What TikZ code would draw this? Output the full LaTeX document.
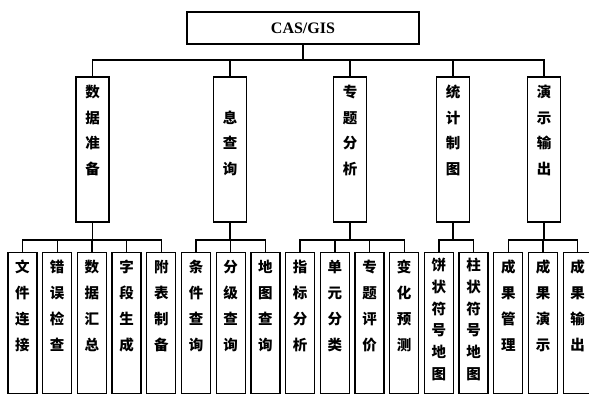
\documentclass[tikz,border=0pt]{standalone}
\usepackage{fontspec}
\setmainfont{Liberation Serif}
\newfontfamily\cjk{Noto Sans CJK SC}
\begin{document}
\begin{tikzpicture}[x=1pt,y=-1pt,
  conn/.style={line width=1.4pt},
  topbox/.style={draw,line width=1.5pt,minimum width=232pt,minimum height=32pt,inner sep=0pt,font=\bfseries\fontsize{16}{16}\selectfont},
  midbox/.style={draw,line width=1.5pt,minimum width=33pt,minimum height=145pt,inner sep=0pt,anchor=north},
  leafbox/.style={draw,line width=1.3pt,minimum width=29pt,minimum height=141pt,inner sep=0pt,anchor=north},
  vtext/.style={anchor=north,align=center,inner sep=0pt,font=\cjk\bfseries\fontsize{14.5}{25.5}\selectfont},
  vtextl/.style={anchor=north,align=center,inner sep=0pt,font=\cjk\bfseries\fontsize{14.5}{26}\selectfont},
  vtexts/.style={anchor=north,align=center,inner sep=0pt,font=\cjk\bfseries\fontsize{14.5}{21.7}\selectfont}]
\useasboundingbox (0,0) rectangle (589,394);
\clip (0,0) rectangle (589,394);
\coordinate (bus1) at (0,60);
\coordinate (bus2) at (0,240);
% top
\node[topbox] (top) at (303,28) {CAS/GIS};
% level 2
\node[midbox] (m1) at (92.5,76) {};
\node[midbox] (m2) at (230,76) {};
\node[midbox] (m3) at (350,76) {};
\node[midbox] (m4) at (453,76) {};
\node[midbox] (m5) at (544,76) {};
\node[vtext] (tm1) at (92.5,85) {数\\据\\准\\备};
\node[vtext] (tm2) at (230,110.5) {息\\查\\询};
\node[vtext] (tm3) at (350,85) {专\\题\\分\\析};
\node[vtext] (tm4) at (453,85) {统\\计\\制\\图};
\node[vtext] (tm5) at (544,85) {演\\示\\输\\出};
\foreach \m in {m1,m2,m3,m4,m5}
  \draw[conn] (top.south) -- (top.south |- bus1) -| (\m.north);
% level 3 boxes
\foreach \i in {1,...,17}
  \node[leafbox] (l\i) at ({22.5+34.7*(\i-1)},252) {};
\foreach \i/\t in {1/{文\\件\\连\\接},2/{错\\误\\检\\查},3/{数\\据\\汇\\总},4/{字\\段\\生\\成},5/{附\\表\\制\\备},
  6/{条\\件\\查\\询},7/{分\\级\\查\\询},8/{地\\图\\查\\询},9/{指\\标\\分\\析},10/{单\\元\\分\\类},
  11/{专\\题\\评\\价},12/{变\\化\\预\\测},15/{成\\果\\管\\理},16/{成\\果\\演\\示},17/{成\\果\\输\\出}}
  \node[vtextl] (tl\i) at ({22.5+34.7*(\i-1)},260) {\t};
\node[vtexts] (tl13) at ({22.5+34.7*12},258) {饼\\状\\符\\号\\地\\图};
\node[vtexts] (tl14) at ({22.5+34.7*13},258) {柱\\状\\符\\号\\地\\图};
% connectors level 2 -> 3
\foreach \m/\l in {m1/l1,m1/l2,m1/l3,m1/l4,m1/l5,m2/l6,m2/l7,m2/l8,m3/l9,m3/l10,m3/l11,m3/l12,m4/l13,m4/l14,m5/l15,m5/l16,m5/l17}
  \draw[conn] (\m.south) -- (\m.south |- bus2) -| (\l.north);
\end{tikzpicture}
\end{document}
